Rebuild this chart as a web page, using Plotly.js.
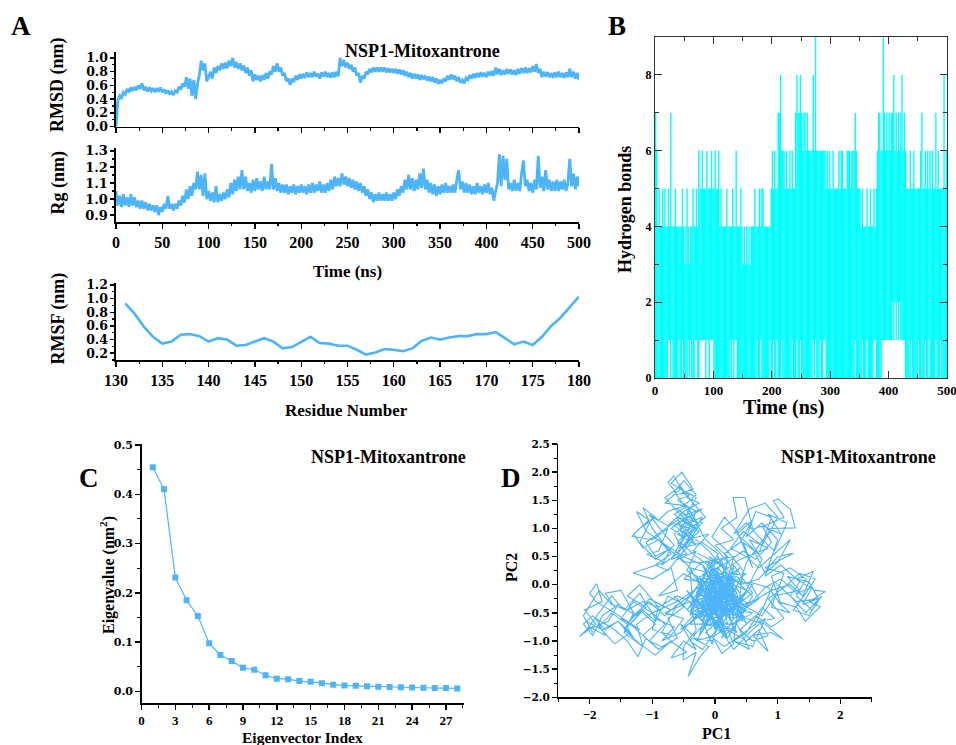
<!DOCTYPE html>
<html><head><meta charset="utf-8">
<script src="https://cdn.plot.ly/plotly-3.0.1.min.js"></script>
<style>html,body{margin:0;padding:0;background:#fff}#chart{width:956px;height:745px}</style>
</head><body><div id="chart"></div>
<script>
// ---------- DATA ----------
// Panel A: RMSD and Rg sampled every 2 ns, 0..500 ns
const timeStepNs = 2;
const rmsd = [0.00,0.38,0.45,0.42,0.50,0.47,0.55,0.50,0.57,0.52,
0.58,0.53,0.60,0.55,0.63,0.53,0.58,0.51,0.57,0.52,
0.56,0.50,0.56,0.51,0.57,0.50,0.54,0.48,0.53,0.47,
0.51,0.46,0.52,0.50,0.58,0.54,0.63,0.58,0.72,0.55,
0.70,0.45,0.68,0.40,0.62,0.75,0.96,0.82,0.92,0.66,
0.72,0.80,0.70,0.86,0.78,0.88,0.82,0.92,0.84,0.93,
0.85,0.96,0.88,1.00,0.86,0.94,0.84,0.92,0.82,0.89,
0.78,0.86,0.74,0.82,0.66,0.76,0.68,0.74,0.66,0.75,
0.68,0.78,0.70,0.80,0.76,0.88,0.80,0.92,0.80,0.86,
0.74,0.78,0.66,0.70,0.61,0.70,0.65,0.74,0.68,0.76,
0.70,0.77,0.71,0.79,0.72,0.78,0.72,0.80,0.73,0.77,
0.70,0.79,0.73,0.80,0.72,0.78,0.71,0.79,0.72,0.80,
0.73,1.00,0.88,0.97,0.86,0.93,0.84,0.90,0.80,0.86,
0.74,0.78,0.64,0.74,0.70,0.80,0.76,0.84,0.79,0.86,
0.80,0.86,0.80,0.86,0.80,0.86,0.79,0.85,0.79,0.84,
0.78,0.84,0.77,0.83,0.76,0.82,0.74,0.80,0.72,0.78,
0.70,0.77,0.70,0.76,0.68,0.75,0.69,0.74,0.67,0.73,
0.66,0.72,0.64,0.70,0.62,0.68,0.63,0.70,0.66,0.74,
0.68,0.76,0.69,0.74,0.66,0.72,0.64,0.68,0.63,0.71,
0.68,0.75,0.70,0.77,0.71,0.78,0.72,0.79,0.73,0.78,
0.72,0.80,0.74,0.81,0.74,0.86,0.76,0.84,0.75,0.82,
0.76,0.84,0.77,0.83,0.76,0.82,0.75,0.84,0.77,0.85,
0.78,0.86,0.78,0.85,0.79,0.88,0.80,0.91,0.78,0.84,
0.72,0.80,0.73,0.79,0.72,0.78,0.71,0.79,0.72,0.80,
0.72,0.78,0.71,0.79,0.72,0.84,0.72,0.80,0.70,0.78,
0.68];
const rg = [1.05,0.96,1.02,0.95,1.03,0.96,1.01,0.95,1.03,0.96,
1.01,0.95,0.99,0.94,0.99,0.94,0.98,0.93,0.97,0.93,
0.96,0.92,0.96,0.90,0.95,0.92,0.97,0.94,1.02,0.94,
0.97,0.93,0.97,0.94,0.99,0.96,1.02,0.98,1.06,1.00,
1.08,1.02,1.10,1.06,1.17,1.06,1.15,1.02,1.16,1.00,
1.05,0.99,1.04,0.98,1.08,0.98,1.03,0.99,1.04,1.00,
1.06,1.01,1.10,1.03,1.12,1.05,1.14,1.06,1.18,1.06,
1.14,1.05,1.10,1.04,1.12,1.05,1.13,1.06,1.11,1.05,
1.14,1.06,1.11,1.06,1.22,1.06,1.13,1.05,1.10,1.04,
1.09,1.04,1.09,1.03,1.08,1.04,1.09,1.03,1.08,1.04,
1.09,1.04,1.08,1.03,1.09,1.04,1.10,1.04,1.09,1.05,
1.11,1.04,1.09,1.04,1.10,1.05,1.12,1.06,1.14,1.08,
1.13,1.08,1.16,1.09,1.14,1.08,1.13,1.07,1.12,1.06,
1.11,1.05,1.10,1.04,1.08,1.02,1.06,1.00,1.04,0.98,
1.03,0.99,1.04,0.99,1.03,0.99,1.04,0.99,1.03,0.99,
1.04,1.00,1.06,1.02,1.08,1.04,1.12,1.06,1.15,1.06,
1.13,1.05,1.12,1.06,1.16,1.07,1.19,1.06,1.12,1.04,
1.10,1.03,1.09,1.02,1.08,1.03,1.09,1.04,1.10,1.04,
1.08,1.04,1.09,1.04,1.12,1.18,1.06,1.11,1.04,1.10,
1.04,1.09,1.03,1.08,1.03,1.10,1.04,1.08,1.03,1.09,
1.04,1.10,1.03,1.07,0.99,1.05,1.10,1.28,1.08,1.27,
1.12,1.25,1.06,1.10,1.05,1.12,1.05,1.10,1.05,1.16,
1.24,1.08,1.12,1.05,1.10,1.04,1.12,1.06,1.27,1.07,
1.14,1.05,1.18,1.06,1.12,1.05,1.11,1.05,1.12,1.05,
1.11,1.06,1.12,1.05,1.10,1.25,1.08,1.16,1.06,1.14,
1.08];
// RMSF per residue
const residues = [131,132,133,134,135,136,137,138,139,140,141,142,143,144,145,146,147,148,149,150,
151,152,153,154,155,156,157,158,159,160,161,162,163,164,165,166,167,168,169,170,
171,172,173,174,175,176,177,178,179,180];
const rmsf = [0.93,0.78,0.59,0.44,0.34,0.37,0.47,0.48,0.45,0.37,
0.42,0.40,0.31,0.32,0.37,0.42,0.37,0.27,0.29,0.37,
0.44,0.35,0.34,0.31,0.31,0.25,0.18,0.21,0.26,0.25,
0.23,0.27,0.38,0.43,0.40,0.43,0.45,0.45,0.48,0.48,
0.51,0.42,0.33,0.37,0.32,0.44,0.60,0.72,0.87,1.03];

// Panel B: hydrogen-bond count range (min..max) in each 2-ns window
const hbBinNs = 2;
const hbMax = [7,6,4,5,4,4,5,4,5,4, 4,5,4,7,4,4,4,5,4,4, 4,4,4,5,4,3,4,5,4,3, 4,4,5,4,4,5,4,6,5,5,
6,5,5,5,6,5,5,5,6,5, 5,6,5,5,6,4,5,4,4,4, 4,5,4,4,4,4,5,4,4,6, 4,4,4,5,4,3,4,3,4,3,
4,3,4,4,4,5,4,4,4,5, 4,5,5,4,4,4,4,4,4,5, 6,5,6,5,5,7,7,8,6,6, 6,5,6,5,5,6,5,6,5,5,
7,8,7,7,8,7,6,7,7,6, 7,6,6,6,6,8,6,9,6,6, 6,6,6,6,6,6,5,6,5,6, 5,5,6,5,5,5,5,6,5,6,
6,5,5,5,6,6,6,5,6,6, 6,7,6,5,5,5,4,5,4,4, 4,5,4,4,5,4,4,5,4,5, 6,7,7,6,6,9,7,6,7,6,
7,6,7,7,8,6,7,6,7,6, 7,8,6,7,6,5,5,5,6,5, 5,6,5,5,5,5,5,6,7,5, 5,6,5,6,5,6,5,6,5,5,
7,5,6,5,5,5,5,8,5,6];
const hbMin = [0,0,0,0,0,0,0,0,0,0, 0,1,1,0,1,0,0,0,0,0, 1,0,0,1,0,0,0,0,1,0, 1,0,0,0,1,1,0,0,1,1,
1,1,1,0,1,1,0,1,1,1, 0,0,0,0,0,0,0,0,0,0, 0,0,0,0,1,0,1,0,1,1, 0,0,0,0,0,0,0,0,0,0,
0,0,0,0,0,0,0,1,0,0, 1,0,0,0,0,0,0,0,1,0, 0,1,0,0,1,0,0,0,1,0, 0,0,0,0,0,0,0,1,0,0,
0,1,0,0,1,0,0,0,0,0, 0,0,0,0,0,1,0,1,0,0, 0,1,0,0,1,1,0,0,0,0, 0,0,0,0,0,0,0,0,0,0,
0,0,0,0,0,0,0,0,0,0, 0,1,0,0,0,0,0,1,0,0, 0,1,0,0,0,0,0,1,1,0, 0,0,0,0,1,1,1,1,1,1,
1,1,1,2,1,2,1,2,1,2, 1,1,1,1,0,0,0,0,0,1, 0,0,0,0,0,1,0,0,0,0, 0,1,0,0,1,0,0,0,0,0,
1,0,0,0,1,0,0,0,0,0];

// Panel C: eigenvalues
const eigIndex = [1,2,3,4,5,6,7,8,9,10,11,12,13,14,15,16,17,18,19,20,21,22,23,24,25,26,27,28];
const eigValues = [0.455,0.410,0.231,0.185,0.153,0.098,0.074,0.062,0.048,0.044,0.033,0.026,0.025,0.021,
0.0195,0.0165,0.0135,0.012,0.0115,0.0105,0.0095,0.009,0.0085,0.008,0.0075,0.007,0.0068,0.0062];

// Panel D: projection on PC1/PC2 (trajectory order)
const pc1 = [0.1,0.3,0.0,-0.3,0.2,-0.1,0.4,0.1,-0.4,0.2,0.5,0.0,-0.2,0.3,0.1,-0.5,-0.2,0.3,0.1,-0.3,0.0,0.4,0.6,0.2,
-0.1,-0.4,-0.2,-0.6,-0.5,-0.3,-0.6,-0.4,-0.7,-0.53,-0.35,-0.6,-0.75,-0.66,-0.45,-0.25,-0.5,-0.7,-0.4,-0.6,-0.3,-0.55,-0.2,-0.45,-0.1,-0.35,0.0,
-0.5,-0.8,-1.0,-1.15,-0.95,-1.2,-1.33,-1.0,-0.75,-0.9,-1.09,-0.8,-1.31,-1.0,-0.7,-0.6,-0.9,-0.5,-0.2,
-0.6,-1.0,-1.3,-1.5,-1.2,-1.6,-1.9,-2.0,-1.89,-1.8,-2.08,-1.9,-2.16,-2.0,-1.75,-1.9,-1.6,-1.4,-1.23,-1.1,-1.35,-1.1,-1.4,-1.2,-0.9,-1.0,-0.7,-0.5,-0.8,-0.4,
-0.3,-0.5,-0.51,-0.3,-0.43,-0.25,-0.1,-0.35,0.0,0.11,0.3,0.2,0.5,0.7,0.85,0.6,0.9,1.09,0.8,0.5,0.3,
0.6,0.9,1.2,1.4,1.57,1.3,1.6,1.76,1.5,1.68,1.44,1.3,1.0,1.2,0.9,1.1,0.8,1.25,1.0,0.7,0.4,
0.5,0.7,0.9,1.28,1.2,1.01,0.93,1.1,0.8,0.6,0.48,0.29,0.35,0.1,0.3,0.0,0.2,-0.1,
0.3,-0.2,0.1,0.4,-0.1,0.2,-0.3,0.5,0.0,-0.4,0.3,0.6,0.1,-0.2,0.2,-0.1,0.4,0.0,-0.3,0.2,0.5,-0.1,0.3,-0.2,0.1,0.6,-0.4,0.0,0.3,-0.2,0.2,
-0.3,-0.55,-0.35,-0.65,-0.45,-0.8,-0.55,-0.3,-0.45,-0.2,-0.5,-0.25,-0.55,-0.2,0.05,
-0.35,-0.7,-1.05,-1.25,-1.55,-1.7,-2.05,-1.85,-1.65,-1.45,-1.2,-0.95,-0.65,-0.85,-0.55,-0.25,
0.35,0.75,0.95,1.35,1.15,1.5,1.65,1.3,0.95,0.65,0.4,0.15,-0.15,0.1,0.45,0.75,0.55,0.85,0.4,0.15,0.0,
0.1,-0.15,0.25,-0.05,0.35,0.05,-0.25,0.15,-0.35,0.0,0.4,0.2,-0.1,0.1,-0.3,0.3,0.05,-0.2,0.25,-0.05,0.45,0.15,-0.25,0.05,0.35,-0.15,0.2,-0.05,0.3,0.0,
-0.45,-0.2,0.05,-0.3,0.15,-0.1,0.35,0.1,-0.25,0.2,0.5,0.25,-0.05,-0.35,0.0,0.3,0.55,0.2,-0.15,-0.4,
-0.1,0.25,0.45,0.1,-0.2,0.15,-0.45,-0.15,0.4,0.05,-0.3,0.25,0.6,0.3,0.0,-0.25,0.2,-0.1,0.35,-0.35,
-0.4,-0.6,-0.5,-0.7,-0.45,-0.6,-0.35,-0.55,-0.65,-0.5,-0.3,-0.5,-0.75,-0.9,-1.05,-0.85,-1.1,-0.95,-0.7,-0.85,
-0.6,-0.4,-0.65,-0.45,-0.55,-0.35,-0.6,-0.3,-0.45,-0.2,
-0.5,-0.75,-0.95,-1.15,-1.4,-1.3,-1.55,-1.75,-1.95,-2.1,-1.95,-1.8,-1.6,-1.75,-1.5,-1.3,-1.45,-1.15,-1.25,-1.0,
-0.8,-1.05,-0.85,-0.6,-0.75,-0.5,-0.65,-0.35,-0.55,-0.3,
-0.1,0.2,0.45,0.7,0.55,0.85,1.05,0.9,1.2,1.45,1.3,1.55,1.7,1.45,1.2,1.35,1.05,0.8,1.0,0.75,
0.5,0.65,0.9,0.7,0.45,0.6,0.35,0.15,-0.05,0.2,0.45,0.3,0.6,0.8,0.55,0.3,0.05,-0.2,-0.4,-0.15,
0.0,0.2,-0.1,0.15,-0.3,-0.05,0.25,0.05,-0.2,0.3,0.1,-0.15,0.35,0.15,-0.25,0.0,0.2,-0.35,-0.1,0.15,
0.4,0.1,-0.2,0.05,0.3,-0.05,-0.3,0.2,0.0,-0.15,0.25,0.45,0.15,-0.1,0.1,-0.25,0.05,0.3,-0.05,0.1,
-0.2,-0.5,-0.85,-1.1,-1.25,-1.05,-1.3,-1.15,-0.9,-0.7,-0.95,-0.75,-0.5,-0.65,-0.4,-0.6,-0.8,-0.55,-0.35,-0.15,
-0.4,-0.6,-0.45,-0.7,-0.5,-0.3,-0.55,-0.75,-1.0,-1.2,-0.95,-0.65,-0.85,-0.6,-0.35,-0.5,-0.25,-0.45,-0.15,0.05,
0.2,0.45,0.65,0.9,0.75,1.05,0.85,1.15,0.95,0.7,0.5,0.3,0.55,0.8,1.0,0.75,0.45,0.25,0.5,0.7,
0.95,1.2,1.0,0.8,0.6,0.35,0.6,0.4,0.15,0.3,
0.0,-0.3,-0.6,-0.9,-1.15,-1.4,-1.65,-1.85,-2.1,-1.95,-2.05,-1.8,-1.55,-1.35,-1.6,-1.85,-1.65,-1.4,-1.2,-0.95,
-1.15,-0.9,-0.7,-0.95,-1.2,-1.45,-1.3,-1.05,-0.8,-0.6,-0.85,-0.65,-0.45,-0.7,-0.5,-0.3,-0.55,-0.35,-0.15,-0.4,
-0.1,0.25,0.55,0.8,1.05,1.3,1.55,1.4,1.65,1.5,1.25,1.45,1.6,1.35,1.1,0.85,1.1,0.9,0.65,0.4,
0.6,0.85,0.7,0.95,0.75,0.5,0.3,0.55,0.35,0.1,0.3,0.5,0.25,0.0,0.2,-0.05,0.15,0.4,0.2,0.0];
const pc2 = [0.2,-0.1,-0.4,-0.2,0.3,0.5,0.1,-0.6,-0.5,-0.2,-0.4,0.1,-0.7,-0.8,0.0,0.1,0.4,0.5,-0.3,-1.0,-0.9,-0.6,-0.2,0.2,
0.6,0.9,1.1,1.2,0.8,1.3,1.5,1.6,1.8,2.0,1.7,1.6,1.82,1.93,1.55,1.45,1.3,1.1,1.0,0.9,0.7,1.05,1.2,0.8,0.9,0.6,0.4,
0.4,0.7,1.0,1.37,1.2,1.0,0.86,0.8,1.0,0.6,0.54,0.4,0.21,0.1,0.3,-0.1,-0.2,0.2,0.0,
-0.3,-0.5,-0.3,-0.6,-0.8,-0.5,-0.3,-0.15,0.02,-0.3,-0.45,-0.7,-0.92,-0.75,-0.9,-0.6,-0.8,-1.0,-1.28,-0.95,-0.7,-0.4,-0.2,0.0,-0.4,-0.8,-0.9,-0.6,-0.5,-0.3,
-0.8,-1.1,-1.34,-1.2,-1.63,-1.3,-1.1,-0.95,-1.0,-1.22,-1.05,-0.8,-1.0,-0.8,-1.19,-0.9,-0.85,-0.97,-0.7,-0.6,-0.4,
-0.3,-0.1,0.0,-0.2,0.24,0.1,-0.1,-0.12,-0.3,-0.39,-0.65,-0.4,-0.3,-0.5,-0.4,0.2,0.3,0.56,0.5,0.1,0.0,
0.4,0.7,1.0,1.01,1.34,1.52,1.49,1.2,1.05,1.0,1.55,1.55,1.2,1.0,0.8,0.7,0.5,0.3,
-0.2,-0.4,0.1,-0.5,-0.6,0.4,0.1,0.2,-0.2,-0.7,-0.7,-0.5,-0.4,0.2,-0.1,-0.3,0.3,0.0,-0.4,-0.5,-0.1,0.2,0.0,-0.2,-0.7,0.0,0.3,-0.5,0.3,-0.8,0.1,
0.5,0.75,1.0,1.25,1.4,1.45,1.7,1.55,1.25,1.35,1.15,0.95,0.65,0.75,0.55,
-0.15,-0.45,-0.25,-0.55,-0.35,-0.65,-0.8,-0.5,-0.2,-0.45,-0.15,-0.6,-0.75,-1.0,-0.85,-0.5,
-0.3,-0.55,-0.2,-0.1,0.15,0.05,-0.25,-0.3,0.05,-0.7,-0.9,-1.1,-0.85,-0.6,-0.2,0.45,0.8,0.65,0.45,0.25,-0.1,
-0.2,0.1,-0.35,-0.55,-0.15,0.3,-0.05,-0.45,-0.6,-0.3,-0.3,0.2,-0.1,-0.8,-0.3,0.1,-0.25,0.35,-0.6,0.05,-0.45,0.0,-0.5,-0.65,0.2,-0.35,-0.25,0.25,-0.5,0.1,
-0.45,-0.1,-0.6,0.15,-0.75,0.35,-0.35,0.45,-0.9,-0.05,-0.7,0.0,-1.05,-0.25,0.25,-0.55,-0.3,-0.95,0.05,-0.55,
0.4,-0.15,-0.65,-0.35,0.1,-0.85,-0.1,-0.65,-0.4,0.5,-0.3,-0.45,-0.15,0.35,-0.8,0.15,-0.6,0.1,-0.85,-0.45,
0.3,0.55,0.85,1.0,1.2,1.35,1.15,1.5,1.65,1.85,1.6,1.4,1.3,1.15,1.25,0.95,0.75,0.5,0.65,0.35,
0.55,0.85,1.05,1.2,0.95,0.8,0.45,0.6,0.25,0.1,
-0.35,-0.2,-0.65,-0.45,-0.75,-0.95,-0.65,-0.8,-0.55,-0.7,-0.9,-0.55,-0.4,-0.15,-0.1,-0.5,-0.85,-1.1,-0.7,-0.5,
-0.7,-1.0,-1.1,-0.95,-0.6,-0.4,-0.2,-0.55,-0.8,-0.6,
-0.4,-0.2,-0.45,-0.25,0.05,-0.05,-0.35,0.15,0.3,0.1,-0.2,-0.45,-0.2,-0.5,-0.2,0.05,0.35,0.15,0.8,1.1,
0.85,1.3,1.2,0.55,0.75,0.3,0.95,1.2,0.85,0.6,0.25,-1.0,-1.1,-0.6,-0.85,-1.15,-0.75,-1.15,-1.0,-0.65,
-0.35,-0.15,-0.5,0.05,-0.2,-0.7,-0.45,0.2,-0.35,-0.6,0.0,-0.55,-0.05,-0.4,-0.15,0.3,-0.7,-0.25,-0.45,-0.25,
-0.6,0.15,-0.65,-0.1,-0.35,0.4,-0.15,-0.4,-0.75,-0.05,0.1,-0.25,-0.5,0.15,-0.3,-0.55,0.2,-0.4,-0.2,-0.05,
0.35,0.5,0.75,0.95,1.3,1.15,0.9,0.65,0.8,0.55,0.35,0.25,0.6,0.9,1.1,1.3,1.55,1.75,1.45,1.2,
1.0,0.75,0.55,0.45,0.85,1.0,1.25,1.05,1.2,0.75,0.45,0.7,0.95,1.15,0.85,0.65,1.05,1.4,0.8,0.6,
0.4,0.6,0.45,0.75,1.05,0.9,1.25,1.1,0.6,0.85,1.1,0.9,1.35,1.45,1.2,0.7,0.95,0.65,0.5,0.3,
0.55,0.8,0.4,0.2,0.65,0.9,1.15,0.75,0.55,0.2,
-0.2,-0.35,-0.2,-0.4,-0.3,-0.45,-0.35,-0.1,-0.55,-0.85,-0.65,-0.8,-0.65,-0.85,-1.05,-0.75,-0.5,-0.7,-0.45,-0.7,
-0.9,-1.15,-1.0,-1.25,-1.05,-0.8,-0.55,-0.3,-0.55,-0.35,-0.85,-1.05,-1.2,-1.3,-1.0,-1.15,-0.7,-0.9,-0.7,-0.45,
-0.3,-0.15,-0.35,-0.05,0.1,-0.15,-0.05,-0.35,-0.25,-0.55,-0.45,-0.15,0.1,0.2,-0.05,-0.25,-0.6,-0.75,-0.55,-0.8,
-1.0,-0.9,-0.65,-0.6,-0.4,-0.85,-1.0,-1.15,-0.7,-0.95,-0.6,-0.45,-0.25,-0.75,-0.95,-0.55,-0.3,-0.4,0.0,-0.25];

// ---------- STYLE ----------
const BLUE = '#4db5f7';
const CYAN = '#00ffff';
const SERIF = 'Liberation Serif, Times New Roman, serif';
const WIDE = 'DejaVu Serif, serif';
const W = 956, H = 745;
const px = v => v / W, py = v => 1 - v / H;

const timeAxis = rmsd.map((_, i) => i * timeStepNs);
const rgTime = rg.map((_, i) => i * timeStepNs);
// one vertical stroke per 2-ns window, from its min to its max H-bond count
const hbX = [], hbY = [];
hbMax.forEach((v, i) => {
  const t = i * hbBinNs + hbBinNs / 2;
  hbX.push(t, t, null);
  hbY.push(hbMin[i], v, null);
});

const traces = [
  {x: timeAxis, y: rmsd, xaxis: 'x', yaxis: 'y', mode: 'lines', line: {color: BLUE, width: 2.8, simplify: false}, hoverinfo: 'skip'},
  {x: rgTime, y: rg, xaxis: 'x2', yaxis: 'y2', mode: 'lines', line: {color: BLUE, width: 2.8, simplify: false}, hoverinfo: 'skip'},
  {x: residues, y: rmsf, xaxis: 'x3', yaxis: 'y3', mode: 'lines', line: {color: BLUE, width: 2.6}, hoverinfo: 'skip'},
  {x: hbX, y: hbY, xaxis: 'x4', yaxis: 'y4', mode: 'lines', connectgaps: false,
   line: {color: CYAN, width: 1.4, simplify: false}, hoverinfo: 'skip'},
  {x: eigIndex, y: eigValues, xaxis: 'x5', yaxis: 'y5', mode: 'lines+markers',
   line: {color: BLUE, width: 1.2}, marker: {symbol: 'square', size: 6, color: BLUE}, hoverinfo: 'skip'},
  {x: pc1, y: pc2, xaxis: 'x6', yaxis: 'y6', mode: 'lines', line: {color: BLUE, width: 1.1, simplify: false}, hoverinfo: 'skip'}
];

function ax(extra) {
  return Object.assign({
    showline: true, linecolor: '#000', linewidth: 1.6, mirror: false,
    ticks: 'outside', tickcolor: '#000', tickwidth: 1.4, ticklen: 5,
    showgrid: false, zeroline: false, fixedrange: true, automargin: false
  }, extra);
}
const fA = {family: SERIF, size: 16, color: '#000', weight: 'bold'};
const fAy = {family: WIDE, size: 12.5, color: '#000', weight: 'bold'};
const fAy2 = {family: WIDE, size: 13, color: '#000', weight: 'bold'};
const minorA = d => ({dtick: d, ticklen: 2.5, tickwidth: 1.2, ticks: 'outside', tickcolor: '#000'});

const layout = {
  width: W, height: H, margin: {l: 0, r: 0, t: 0, b: 0},
  paper_bgcolor: '#fff', plot_bgcolor: 'rgba(0,0,0,0)', showlegend: false,
  font: {family: SERIF, color: '#000'},
  xaxis: ax({domain: [px(116), px(579)], range: [0, 500], anchor: 'y', dtick: 50, showticklabels: false, minor: minorA(25)}),
  yaxis: ax({domain: [py(126.7), py(51.7)], range: [0, 1.09], anchor: 'x', dtick: 0.2, tick0: 0, tickformat: '.1f',
    tickfont: fAy, ticklen: 4, minor: minorA(0.1)}),
  xaxis2: ax({domain: [px(116), px(579)], range: [0, 500], anchor: 'y2', dtick: 50, tickfont: fA, minor: minorA(25)}),
  yaxis2: ax({domain: [py(222.3), py(147.7)], range: [0.855, 1.32], anchor: 'x2', dtick: 0.1, tick0: 0.9, tickformat: '.1f',
    tickfont: fAy2, ticklen: 4, minor: minorA(0.05)}),
  xaxis3: ax({domain: [px(116), px(579)], range: [130, 180], anchor: 'y3', dtick: 5, tickfont: fA, minor: minorA(2.5)}),
  yaxis3: ax({domain: [py(360), py(283.3)], range: [0.10, 1.225], anchor: 'x3', dtick: 0.2, tick0: 0.2, tickformat: '.1f',
    tickfont: fAy, ticklen: 4, minor: minorA(0.1)}),
  xaxis4: ax({domain: [px(655), px(947)], range: [0, 500], anchor: 'y4', dtick: 100, linewidth: 1.2, linecolor: '#333',
    ticks: 'inside', ticklen: 7, tickwidth: 1.2, tickcolor: '#333', mirror: 'allticks', ticklabeloverflow: 'allow',
    tickfont: {family: SERIF, size: 13, color: '#000', weight: 'bold'},
    minor: {dtick: 50, ticklen: 4, tickwidth: 1, ticks: 'inside', tickcolor: '#333'}}),
  yaxis4: ax({domain: [py(378), py(37)], range: [0, 9], anchor: 'x4', dtick: 2, linewidth: 1.2, linecolor: '#333',
    ticks: 'inside', ticklen: 7, tickwidth: 1.2, tickcolor: '#333', mirror: 'allticks',
    tickfont: {family: SERIF, size: 12, color: '#000', weight: 'bold'},
    minor: {dtick: 1, ticklen: 4, tickwidth: 1, ticks: 'inside', tickcolor: '#333'}}),
  xaxis5: ax({domain: [px(141.5), px(464)], range: [0, 28.6], anchor: 'y5', dtick: 3, linewidth: 1.4,
    tickfont: {family: SERIF, size: 13, color: '#000', weight: 'bold'},
    minor: {dtick: 1.5, ticklen: 3, tickwidth: 1, ticks: 'outside', tickcolor: '#000'}}),
  yaxis5: ax({domain: [py(703.3), py(443.5)], range: [-0.024, 0.503], anchor: 'x5', dtick: 0.1, tick0: 0, tickformat: '.1f', linewidth: 1.4,
    tickfont: {family: WIDE, size: 11, color: '#000', weight: 'bold'},
    minor: {dtick: 0.05, ticklen: 3, tickwidth: 1, ticks: 'outside', tickcolor: '#000'}}),
  xaxis6: ax({domain: [px(558.3), px(871.7)], range: [-2.5, 2.5], anchor: 'y6', dtick: 1, tick0: 0, linewidth: 1.4,
    tickfont: {family: SERIF, size: 13, color: '#000', weight: 'bold'},
    minor: {dtick: 0.5, ticklen: 3, tickwidth: 1, ticks: 'outside', tickcolor: '#000'}}),
  yaxis6: ax({domain: [py(697.3), py(444)], range: [-2, 2.5], anchor: 'x6', dtick: 0.5, tick0: 0, tickformat: '.1f', linewidth: 1.4,
    tickfont: {family: WIDE, size: 10.5, color: '#000', weight: 'bold'},
    minor: {dtick: 0.25, ticklen: 3, tickwidth: 1, ticks: 'outside', tickcolor: '#000'}}),
  annotations: []
};

function ann(text, x, y, size, angle) {
  return {text: text, x: px(x), y: py(y), xref: 'paper', yref: 'paper', showarrow: false,
    xanchor: 'center', yanchor: 'middle', textangle: angle || 0,
    font: {family: SERIF, size: size, color: '#000', weight: 'bold'}};
}
layout.annotations.push(
  ann('A', 21, 26, 27), ann('B', 617, 26, 27), ann('C', 89, 478, 27), ann('D', 511, 478, 27),
  ann('NSP1-Mitoxantrone', 422.5, 51, 18), ann('NSP1-Mitoxantrone', 388.5, 457.5, 18), ann('NSP1-Mitoxantrone', 858, 456.5, 18),
  ann('RMSD (nm)', 58, 85, 18, -90), ann('Rg (nm)', 57.5, 183, 18, -90), ann('RMSF (nm)', 57.5, 319, 18, -90),
  ann('Time (ns)', 347.5, 271, 17), ann('Residue Number', 346, 410, 17),
  ann('Hydrogen bonds', 625, 210, 18, -90), ann('Time (ns)', 783, 407, 20),
  ann('Eigenvalue (nm<sup>2</sup>)', 107, 575, 16, -90), ann('Eigenvector Index', 302, 737, 15.5),
  ann('PC2', 511, 567, 16, -90), ann('PC1', 716, 733, 16)
);

Plotly.newPlot('chart', traces, layout, {staticPlot: true, displayModeBar: false});
</script>
</body></html>
